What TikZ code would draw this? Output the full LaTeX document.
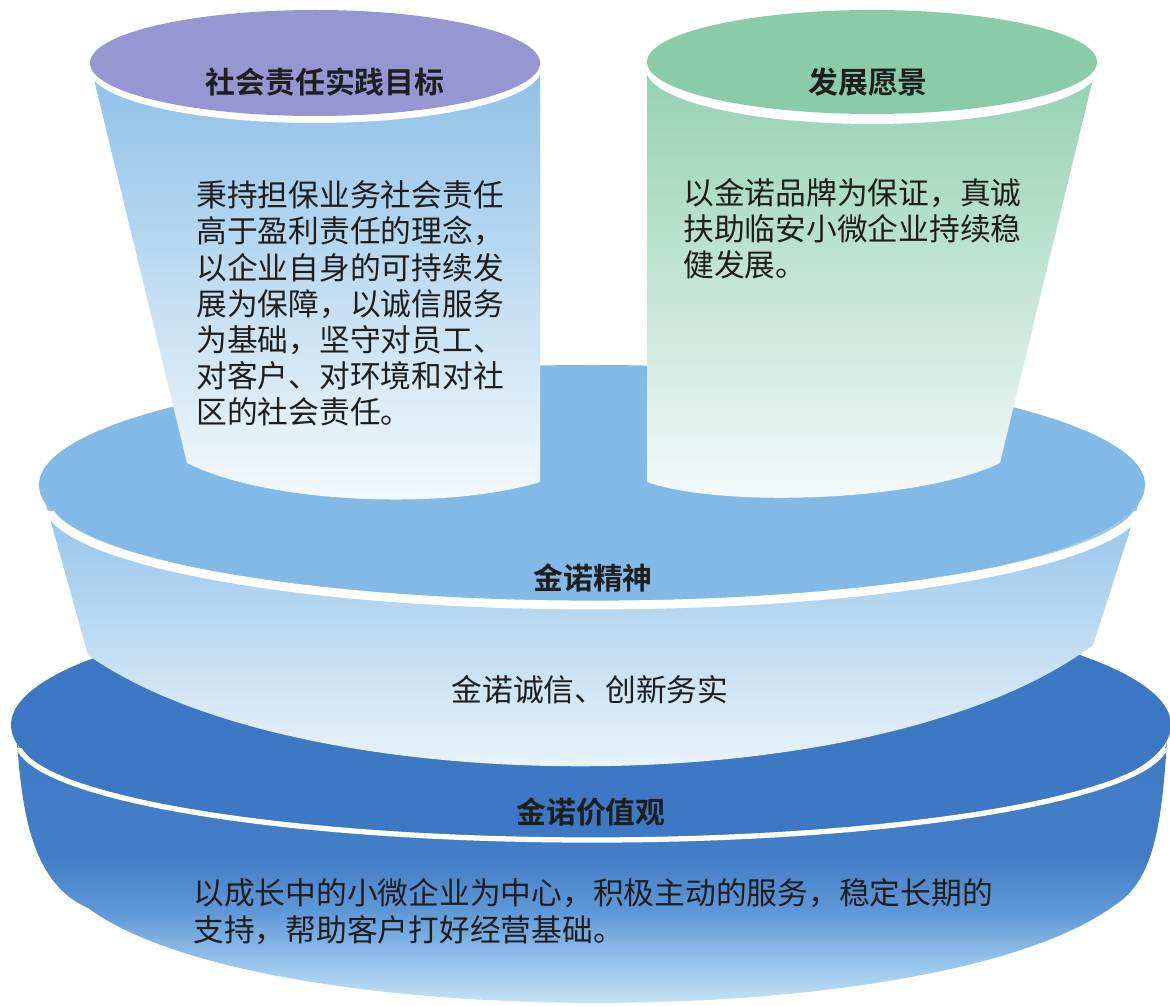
\documentclass[tikz,border=0pt]{standalone}
\usepackage{fontspec}
\setmainfont{Noto Sans CJK SC}[BoldFont={Noto Sans CJK SC Bold}]
\usepackage{xcolor}
\usepackage{tikz}
\definecolor{capPurple}{RGB}{152,150,210}
\definecolor{capGreen}{RGB}{138,204,170}
\definecolor{cupBlue}{RGB}{140,192,232}
\definecolor{cupBlueMid}{RGB}{165,208,238}
\definecolor{cupGreen}{RGB}{146,208,178}
\definecolor{cupGreenMid}{RGB}{172,220,196}
\definecolor{cupFoot}{RGB}{246,250,252}
\definecolor{midFace}{RGB}{130,185,230}
\definecolor{midSide}{RGB}{142,193,234}
\definecolor{midSideMid}{RGB}{184,217,242}
\definecolor{baseFace}{RGB}{60,120,195}
\definecolor{baseUpper}{RGB}{66,126,200}
\definecolor{baseMid}{RGB}{95,152,215}
\definecolor{baseLow}{RGB}{145,192,235}
\definecolor{baseFoot}{RGB}{200,228,246}
\definecolor{ink}{RGB}{30,30,30}
% 底层侧面：上深下浅
\pgfdeclareverticalshading{basefade}{100bp}{color(0bp)=(baseFoot); color(30bp)=(baseFoot);
  color(38bp)=(baseLow); color(46bp)=(baseMid); color(55bp)=(baseUpper); color(100bp)=(baseFace)}
\tikzset{
  cupbody/.style={draw=none},                       % 杯身：竖直渐变
  rim/.style={draw=white,line width=#1},            % 白色边线
  rim/.default=5,
  ttl/.style={font=\bfseries\fontsize{17}{20}\selectfont,text=ink,inner sep=0pt},
  txt/.style={font=\fontsize{17.5}{20.6}\selectfont,text=ink,align=left,inner sep=0pt}
}

\begin{document}
\begin{tikzpicture}[x=0.02cm,y=-0.02cm]
  \useasboundingbox (0,0) rectangle (1170,1006);

  % 底层：金诺价值观
  \fill[baseFace] (591,725) ellipse[x radius=580,y radius=130];
  \path[shading=basefade]
    (17,740) .. controls (22,820) and (35,885) .. (88,908)
    .. controls (260,1035) and (940,1035) .. (1115,905)
    .. controls (1155,880) and (1162,820) .. (1167,740)
    arc[start angle=0,end angle=180,x radius=575,y radius=100] -- cycle;
  \begin{scope}
    \clip (0,748) rectangle (1170,1006);
    \draw[rim=3] (592,740) ellipse[x radius=575,y radius=100];
  \end{scope}

  % 中层：金诺精神
  \path[top color=midSide,middle color=midSideMid,bottom color=cupFoot]
    (42,490) -- (88,655) .. controls (300,805) and (880,805) .. (1093,645)
    -- (1143,490) -- cycle;
  \fill[midFace] (592,485) ellipse[x radius=553,y radius=120];
  \begin{scope}
    \clip (0,512) rectangle (1170,1006);
    \draw[rim] (594,500) ellipse[x radius=548,y radius=105];
  \end{scope}

  % 左杯：社会责任实践目标
  \path[cupbody,top color=cupBlue,middle color=cupBlueMid,bottom color=cupFoot]
    (90,63) -- (187,463) .. controls (270,505) and (450,510) .. (540,482)
    -- (540,63) -- cycle;
  \fill[white] (315,69) ellipse[x radius=226,y radius=54];
  \fill[capPurple] (315,63) ellipse[x radius=225,y radius=53];

  % 右杯：发展愿景
  \path[cupbody,top color=cupGreen,middle color=cupGreenMid,bottom color=cupFoot]
    (647,62) -- (647,482) .. controls (720,508) and (920,502) .. (1000,463)
    -- (1097,62) -- cycle;
  \fill[white] (872,69) ellipse[x radius=226,y radius=55];
  \fill[capGreen] (872,62) ellipse[x radius=225,y radius=52];

  % 文字
  \node[ttl] (dutyttl) at (325,82) {社会责任实践目标};
  \node[txt,anchor=west] (dutytxt) at (196,303.5)
    {秉持担保业务社会责任\\高于盈利责任的理念，\\以企业自身的可持续发\\展为保障，以诚信服务\\为基础，坚守对员工、\\对客户、对环境和对社\\区的社会责任。};
  \node[ttl] (visionttl) at (868,82) {发展愿景};
  \node[txt,anchor=west] (visiontxt) at (683,228.5)
    {以金诺品牌为保证，真诚\\扶助临安小微企业持续稳\\健发展。};
  \node[ttl] (spiritttl) at (593,578) {金诺精神};
  \node[txt] (spirittxt) at (590,690) {金诺诚信、创新务实};
  \node[ttl] (valuettl) at (591,812) {金诺价值观};
  \node[txt,anchor=west] (valuetxt) at (193,911.5)
    {以成长中的小微企业为中心，积极主动的服务，稳定长期的\\支持，帮助客户打好经营基础。};
\end{tikzpicture}
\end{document}
